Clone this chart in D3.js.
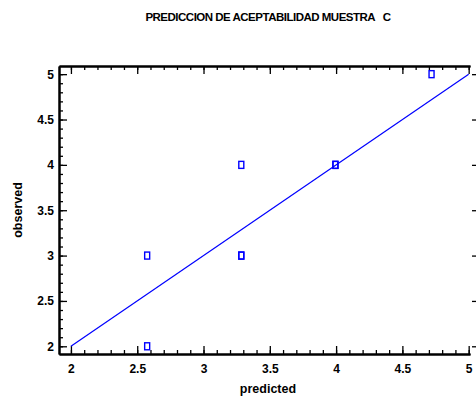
<!DOCTYPE html>
<html>
<head>
<meta charset="utf-8">
<script src="https://cdn.jsdelivr.net/npm/d3@7"></script>
<style>
  body { margin: 0; background: #fff; }
  text { font-family: "Liberation Sans Narrow", "Arial Narrow", "Liberation Sans", Arial, sans-serif; font-weight: bold; }
</style>
</head>
<body>
<div id="content"></div>
<script>
// data
const predicted = [2.575, 2.575, 3.285, 3.285, 3.285, 3.995, 3.995, 4.72]
const observed  = [3, 2, 4, 3, 3, 4, 4, 5]
const fitLine = [[2, 2], [5, 5]]
const majorTicks = [2, 2.5, 3, 3.5, 4, 4.5, 5]
const minorTicks = d3.range(20, 51).map(d => d / 10)

const W = 476, H = 401
const plotLeft = 59, plotRight = 470, plotTop = 66, plotBottom = 354
const blue = "#0000ff"

const svg = d3.select("#content").append("svg")
    .attr("width", W)
    .attr("height", H)

const x = d3.scaleLinear().domain([1.91, 5.01]).range([plotLeft, plotRight])
const y = d3.scaleLinear().domain([1.915, 5.09]).range([plotBottom, plotTop])

// title
svg.append("text")
    .attr("x", 268).attr("y", 21)
    .attr("text-anchor", "middle")
    .style("font-size", "11.5px")
    .style("letter-spacing", "-0.5px")
    .style("white-space", "pre")
    .text("PREDICCION DE ACEPTABILIDAD MUESTRA   C")

const styleAxis = g => {
    g.select(".domain").attr("stroke", "#000").attr("stroke-width", 2)
    g.selectAll(".tick line").attr("stroke", "#000").attr("stroke-width", 1.3)
}

// bottom
svg.append("g")
    .attr("transform", `translate(0,${plotBottom})`)
    .call(d3.axisBottom(x).tickValues(minorTicks).tickSize(-4).tickSizeOuter(0).tickFormat(""))
    .call(styleAxis)
svg.append("g")
    .attr("transform", `translate(0,${plotBottom})`)
    .call(d3.axisBottom(x).tickValues(majorTicks).tickSize(-8).tickSizeOuter(0).tickPadding(10).tickFormat(d3.format("")))
    .call(styleAxis)
    .call(g => g.selectAll(".tick text").style("font-size", "12px").attr("fill", "#000"))

// top
svg.append("g")
    .attr("transform", `translate(0,${plotTop})`)
    .call(d3.axisTop(x).tickValues(minorTicks).tickSize(-4).tickSizeOuter(0).tickFormat(""))
    .call(styleAxis)
svg.append("g")
    .attr("transform", `translate(0,${plotTop})`)
    .call(d3.axisTop(x).tickValues(majorTicks).tickSize(-8).tickSizeOuter(0).tickFormat(""))
    .call(styleAxis)

// left
svg.append("g")
    .attr("transform", `translate(${plotLeft},0)`)
    .call(d3.axisLeft(y).tickValues(minorTicks).tickSize(-4).tickSizeOuter(0).tickFormat(""))
    .call(styleAxis)
svg.append("g")
    .attr("transform", `translate(${plotLeft},0)`)
    .call(d3.axisLeft(y).tickValues(majorTicks).tickSize(-8).tickSizeOuter(0).tickPadding(5).tickFormat(d3.format("")))
    .call(styleAxis)
    .call(g => g.selectAll(".tick text").style("font-size", "12px").attr("fill", "#000"))

// right side: short outer ticks only
svg.append("g")
    .attr("transform", `translate(${plotRight + 2},0)`)
    .call(d3.axisRight(y).tickValues(majorTicks).tickSize(4).tickSizeOuter(0).tickFormat(""))
    .call(g => g.select(".domain").remove())
    .call(g => g.selectAll(".tick line").attr("stroke", "#000").attr("stroke-width", 1.3))

// axis titles
svg.append("text")
    .attr("x", 268).attr("y", 393)
    .attr("text-anchor", "middle")
    .style("font-size", "12.5px")
    .text("predicted")

svg.append("text")
    .attr("transform", `translate(22,${(plotTop + plotBottom) / 2}) rotate(-90)`)
    .attr("text-anchor", "middle")
    .style("font-size", "12.5px")
    .text("observed")

// fitted line
svg.append("path")
    .datum(fitLine)
    .attr("d", d3.line().x(d => x(d[0])).y(d => y(d[1])))
    .attr("fill", "none")
    .attr("stroke", blue)
    .attr("stroke-width", 1.2)

// points
svg.append("g").selectAll("rect")
    .data(predicted.map((p, i) => [p, observed[i]]))
    .join("rect")
    .attr("x", d => x(d[0]) - 2.5)
    .attr("y", d => y(d[1]) - 3.5)
    .attr("width", 5)
    .attr("height", 7)
    .attr("fill", "none")
    .attr("stroke", blue)
    .attr("stroke-width", 1.4)
</script>
</body>
</html>
